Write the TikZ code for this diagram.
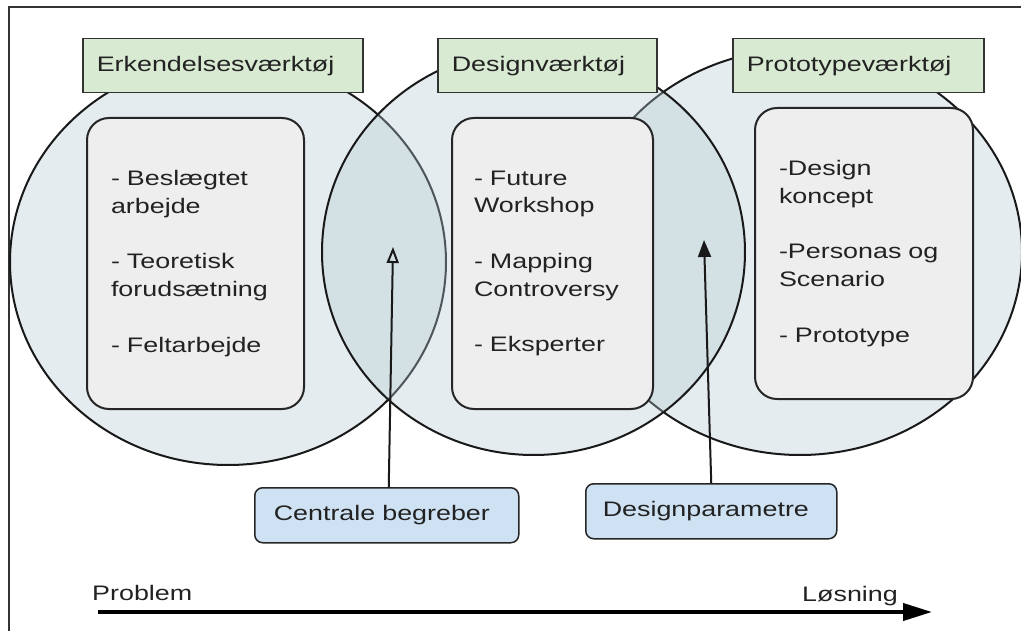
\documentclass[tikz,border=0pt]{standalone}
\usepackage{fontspec}
\setmainfont{Liberation Sans}[FakeStretch=1.28]
\usetikzlibrary{arrows.meta}
\definecolor{vennblue}{RGB}{178,201,209}
\definecolor{toolgreen}{RGB}{217,234,211}
\definecolor{listgray}{RGB}{238,238,238}
\definecolor{termblue}{RGB}{207,226,243}
\definecolor{inkgray}{RGB}{34,34,34}
\tikzset{venn/.style={draw=black!90, line width=2pt, fill=vennblue, fill opacity=0.35},
         tool/.style={draw=black!80, fill=toolgreen, line width=1.5pt,
         inner xsep=14pt, minimum height=54pt, align=left, anchor=north west},
         list/.style={draw=black!85, fill=listgray, line width=2pt, rounded corners=22pt,
         inner xsep=24pt, minimum height=291pt, align=left, anchor=north west},
         term/.style={draw=black!85, fill=termblue, line width=1.5pt, rounded corners=8pt,
         inner xsep=18pt, minimum height=55pt, align=left, anchor=north west},
         link/.style={line width=2pt, black!90}}

\begin{document}
\begin{tikzpicture}[x=1pt, y=-1pt, font=\fontsize{21}{27.8}\selectfont, text=inkgray]
  \useasboundingbox (0,0) rectangle (1021,631);
  \clip (0,0) rectangle (1021,631);
  \draw[line width=2pt, black!80] (9,7) rectangle (1040,650);

  % the three tool circles
  \draw[venn] (228,262) ellipse [x radius=218, y radius=203];
  \draw[venn] (800,252) ellipse [x radius=222, y radius=203];
  \draw[venn] (533.5,252) ellipse [x radius=211.5, y radius=203];

  \node[list, text width=169pt] (erklist) at (86,117)
    {- Beslægtet\\arbejde\\[27.8pt]- Teoretisk\\forudsætning\\[27.8pt]- Feltarbejde};
  \node[list, inner xsep=22pt, text width=157pt] (deslist) at (451,117)
    {- Future\\Workshop\\[27.8pt]- Mapping\\Controversy\\[27.8pt]- Eksperter};
  \node[list, text width=170pt] (protlist) at (754,107)
    {-Design\\koncept\\[27.8pt]-Personas~og\\Scenario\\[27.8pt]- Prototype};

  \node[tool, text width=252pt] (erk) at (82,38) {Erkendelsesværktøj};
  \node[tool, text width=191pt] (des) at (437,38) {Designværktøj};
  \node[tool, text width=223pt] (prot) at (732,38) {Prototypeværktøj};

  \node[term, inner xsep=19pt, text width=226pt] (centr) at (254,487) {Centrale begreber};
  \node[term, inner xsep=17pt, text width=217pt] (despar) at (585,483) {Designparametre};

  \coordinate (tipA) at (393,247);
  \coordinate (tipB) at (704,240);
  \draw[link, -{Triangle[open, length=16pt, width=12pt]}] ([xshift=2pt]centr.north) -- (tipA);
  \draw[link, -{Triangle[length=17pt, width=13pt]}] (despar.north) -- (tipB);

  % problem -> solution axis
  \coordinate (axisL) at (98,612);
  \coordinate (axisR) at (932,612);
  \draw[line width=4pt, -{Triangle[length=29pt, width=17pt]}] (axisL) -- (axisR);
  \node[anchor=base west, inner sep=0pt] (prob) at (92,600) {Problem};
  \node[anchor=base west, inner sep=0pt] (losn) at (802,601) {Løsning};
\end{tikzpicture}
\end{document}
